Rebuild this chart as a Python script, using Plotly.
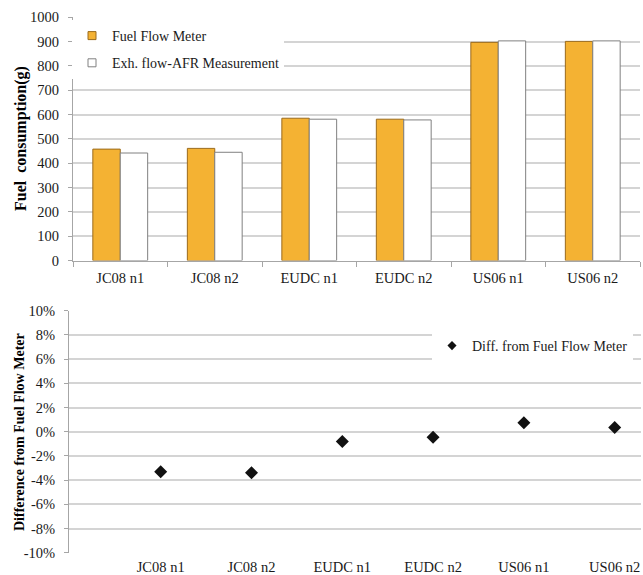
import plotly.graph_objects as go

# ---------------- data ----------------
categories = ["JC08 n1", "JC08 n2", "EUDC n1", "EUDC n2", "US06 n1", "US06 n2"]
fuel_flow_meter = [458, 461, 585, 581, 897, 901]
exh_flow_afr = [442, 445, 581, 578, 903, 903]
diff_pct = [-3.3, -3.4, -0.8, -0.45, 0.75, 0.35]

top_ticks = [0, 100, 200, 300, 400, 500, 600, 700, 800, 900, 1000]
bottom_ticks = [-10, -8, -6, -4, -2, 0, 2, 4, 6, 8, 10]
bottom_ticktext = [f"{v}%" for v in bottom_ticks]

W, H = 643, 575
FONT = "Liberation Serif, Times New Roman, serif"
GRID = "#D4D4D4"
AXIS = "#A6A6A6"
TXT = "#1a1a1a"
ORANGE = "#F4B233"
ORANGE_EDGE = "#9A6A1C"
WHITE_EDGE = "#808080"


def px_x(p):
    return p / W


def px_y(p):
    return 1 - p / H


def f(size, color=TXT):
    return dict(family=FONT, size=size, color=color)


fig = go.Figure()

fig.add_trace(go.Bar(
    x=categories, y=fuel_flow_meter, name="Fuel Flow Meter",
    marker=dict(color=ORANGE, line=dict(color=ORANGE_EDGE, width=1)),
    xaxis="x", yaxis="y", showlegend=False,
))
fig.add_trace(go.Bar(
    x=categories, y=exh_flow_afr, name="Exh. flow-AFR Measurement",
    marker=dict(color="white", line=dict(color=WHITE_EDGE, width=1)),
    xaxis="x", yaxis="y", showlegend=False,
))
# legend-only entries (small square keys like the reference)
fig.add_trace(go.Scatter(
    x=[None], y=[None], name="Fuel Flow Meter", mode="markers",
    marker=dict(symbol="square", size=8, color=ORANGE, line=dict(color=ORANGE_EDGE, width=1)),
    xaxis="x", yaxis="y", legend="legend", legendgroup="a",
))
fig.add_trace(go.Scatter(
    x=[None], y=[None], name="Exh. flow-AFR Measurement", mode="markers",
    marker=dict(symbol="square", size=8, color="white", line=dict(color=WHITE_EDGE, width=1)),
    xaxis="x", yaxis="y", legend="legend", legendgroup="b",
))
fig.add_trace(go.Scatter(
    x=categories, y=diff_pct, name="Diff. from Fuel Flow Meter",
    mode="markers", marker=dict(symbol="diamond", size=10, color="#111111"),
    xaxis="x2", yaxis="y2", showlegend=False,
))
fig.add_trace(go.Scatter(
    x=[None], y=[None], name="Diff. from Fuel Flow Meter",
    mode="markers", marker=dict(symbol="diamond", size=7, color="#111111"),
    xaxis="x2", yaxis="y2", legend="legend2",
))

n = len(categories)
bottom_range = [-1.01, n - 1 + 0.29]
boundaries = [i - 0.5 for i in range(n)]

y2_dom = [px_y(552.7), px_y(310.7)]

fig.update_layout(
    width=W, height=H,
    margin=dict(l=0, r=0, t=0, b=0),
    paper_bgcolor="white", plot_bgcolor="white",
    font=f(14),
    barmode="group", bargap=0.42, bargroupgap=0,
    showlegend=True,
    xaxis=dict(
        domain=[px_x(73), px_x(640)], anchor="y", type="category",
        categoryorder="array", categoryarray=categories,
        tickson="boundaries", ticks="outside", ticklen=5, tickcolor=AXIS,
        showline=True, linecolor=AXIS, linewidth=1, showgrid=False,
        tickfont=f(14.5), ticklabelstandoff=4, automargin=False,
    ),
    yaxis=dict(
        domain=[px_y(260.5), px_y(17.3)], anchor="x", range=[0, 1000],
        tickvals=top_ticks, ticks="outside", ticklen=4, tickcolor=AXIS,
        showline=True, linecolor=AXIS, linewidth=1,
        showgrid=True, gridcolor=GRID, gridwidth=1.5, zeroline=False,
        tickfont=f(14.5), ticklabelstandoff=6, automargin=False,
    ),
    xaxis2=dict(
        domain=[px_x(69), px_x(641)], anchor="y2", type="category",
        categoryorder="array", categoryarray=categories, range=bottom_range,
        ticks="", showline=False, showgrid=False,
        tickfont=f(14.5), ticklabelstandoff=4, automargin=False,
    ),
    xaxis3=dict(
        domain=[px_x(69), px_x(641)], overlaying="x2", anchor="free",
        position=(y2_dom[0] + y2_dom[1]) / 2, range=bottom_range,
        tickvals=boundaries, ticks="outside", ticklen=4, tickcolor=AXIS,
        showticklabels=False, showline=True, linecolor=AXIS, linewidth=1,
        showgrid=False, zeroline=False,
    ),
    yaxis2=dict(
        domain=y2_dom, anchor="x2", range=[-10, 10],
        tickvals=bottom_ticks, ticktext=bottom_ticktext,
        ticks="outside", ticklen=4, tickcolor=AXIS,
        showline=True, linecolor=AXIS, linewidth=1,
        showgrid=True, gridcolor=GRID, gridwidth=1.5, zeroline=False,
        tickfont=f(14.5), ticklabelstandoff=6, automargin=False,
    ),
    legend=dict(
        x=px_x(72), y=px_y(20), xanchor="left", yanchor="top",
        bgcolor="white", font=f(14), tracegroupgap=6,
        itemwidth=30, traceorder="grouped",
    ),
    legend2=dict(
        x=px_x(432), y=px_y(330), xanchor="left", yanchor="top",
        bgcolor="white", font=f(14), itemwidth=30,
    ),
    annotations=[
        dict(text="<b>Fuel  consumption(g)</b>", x=px_x(21), y=px_y(139),
             xref="paper", yref="paper", xanchor="center", yanchor="middle",
             showarrow=False, textangle=-90, font=f(16, "#000000")),
        dict(text="<b>Difference from Fuel Flow Meter</b>", x=px_x(20), y=px_y(432),
             xref="paper", yref="paper", xanchor="center", yanchor="middle",
             showarrow=False, textangle=-90, font=f(14, "#000000")),
    ],
)

fig.write_html(
    "out.html",
    config={"displayModeBar": False},
    post_script="document.body.style.margin='0';document.body.style.overflow='hidden';"
                "document.documentElement.style.overflow='hidden';",
)
